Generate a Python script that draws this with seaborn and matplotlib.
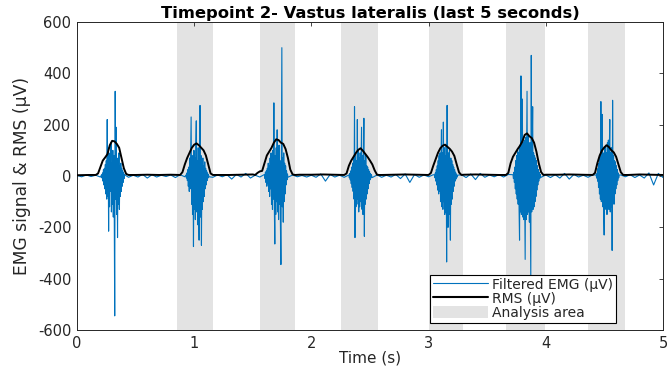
import numpy as np
import pandas as pd
import matplotlib
matplotlib.use("Agg")
import matplotlib.pyplot as plt
import seaborn as sns
from matplotlib.patches import Patch
from matplotlib.lines import Line2D

# ---------------- data ----------------
title = "Timepoint 2- Vastus lateralis (last 5 seconds)"
x_label = "Time (s)"
y_label = "EMG signal & RMS (\u00b5V)"
legend_labels = ["Filtered EMG (\u00b5V)", "RMS (\u00b5V)", "Analysis area"]
x_ticks = [0, 1, 2, 3, 4, 5]
y_ticks = [-600, -400, -200, 0, 200, 400, 600]

analysis_start = [0.85, 1.56, 2.25, 3.00, 3.66, 4.36]
analysis_end = [1.16, 1.86, 2.57, 3.29, 3.99, 4.68]

# EMG bursts (sample step 0.004 s)
emg_dt = 0.004
burst_starts = [0.21, 0.93, 1.60, 2.32, 3.05, 3.72, 4.43]
burst1 = [5, -8, 12, -20, 25, -35, 30, -50, 45, -70, 60, -90, 220, -80, 110, -215, 70, -120, 90, -60,
          130, -140, 50, -110, 100, -160, 80, -130, -545, 330, -90, 190, -150, 70, -240, 60, -110, 90, -130, 40,
          -80, 50, -60, 30, -40, 20, -25, 12, -10, 5]
burst2 = [4, -8, 12, -18, 25, -40, 35, -60, 70, -50, 90, 230, -110, 80, -150, 60, -275, 100, -130, 70,
          -170, 120, 215, -140, 60, -190, 110, -120, -250, 90, 275, -160, 80, -270, 50, -130, 70, -100, 40, -80,
          55, -50, 30, -35, 20, -18, 12, -8, 5, -3]
burst3 = [6, -10, 15, -25, 20, -40, 30, -30, 50, -60, 40, -80, 70, -50, 90, -110, 60, -130, 100, -90,
          285, -120, -265, 80, -150, 110, -100, 180, -140, 90, -170, 120, -110, 60, -190, -345, 100, 500, -120, 70,
          -180, 90, -100, 50, -70, 40, -35, 20, -15, 8]
burst4 = [4, -7, 10, -15, 20, -30, 35, -45, 50, -60, 70, -90, 270, -240, 80, -120, 60, -110, 220, -90,
          100, -140, 70, -120, 90, -100, 60, 190, -130, 80, -150, 70, 225, -235, 60, -110, 80, -90, 40, -70,
          35, -50, 25, -30, 18, -15, 10, -8, 5, -3]
burst5 = [4, -7, 12, -20, 25, -35, 40, -55, 60, -70, 80, -60, 90, -100, 70, 180, -120, 90, -130, 210,
          -100, 110, -150, 80, -140, 120, -335, 275, -110, -200, 90, -150, 100, -120, -250, 70, -110, 60, -90, 45,
          -60, 35, -40, 25, -20, 15, -12, 8, -5, 3]
burst6 = [5, -10, 15, -25, 35, -50, 60, -70, 80, -90, 100, -110, 90, -130, -250, 120, -140, 390, -150, 110,
          300, -160, 130, -170, 140, -120, -325, 150, -170, 110, 330, -150, 160, -140, 120, -180, 130, -160, -400, 470,
          -140, 110, 270, -130, 90, -120, 80, -100, 70, -80, 60, -55, 40, -35, 25, -20, 15, -10, 6, -3]
burst7 = [4, -8, 12, -20, 30, -45, 50, -70, 80, -90, 290, -100, 110, 240, -120, 90, -140, -230, 110, -130,
          120, -110, 90, -150, 130, -120, 140, -130, 100, 220, -140, 90, -120, 110, -290, 295, -100, 80, -110, 60,
          -70, 55, -50, 40, -35, 25, -18, 12, -7, 4]
burst_emg = [burst1, burst2, burst3, burst4, burst5, burst6, burst7]

# EMG baseline between bursts (sample step 0.04 s, from 0 s)
baseline_dt = 0.04
baseline_emg = [2, -3, 4, -2, 3, -4, 2, -3, 5, -6,
                4, -5, 3, -4, 6, -8, 5, -4, 3, -2,
                4, -6, 5, -3, 4, -5, 6, -4, 3, -5,
                4, -3, 5, -12, 6, -4, 10, -8, 3, -4,
                5, -3, 4, -6, 3, -5, 4, -3, 2, -4,
                3, -5, 8, -20, 6, -4, 3, -5, 4, -3,
                5, -4, 3, -6, 4, -5, 3, -4, 6, -10,
                8, -25, 6, -5, 4, -3, 5, -4, 3, -5,
                4, -3, 5, -6, 8, -14, 10, -5, 4, -3,
                5, -4, 6, -5, 4, -3, 5, -4, 3, -5,
                4, -6, 5, -8, 10, -12, 6, -4, 3, -5,
                4, -3, 5, -4, 6, -5, 4, -3, 5, -6,
                4, -8, 12, -35, 10, -6]

# RMS envelope during bursts (sample step 0.02 s)
rms_dt = 0.02
rms_starts = [0.16, 0.88, 1.52, 2.28, 3.00, 3.66, 4.40]
rms1 = [4, 10, 35, 60, 72, 85, 120, 137, 135, 125, 110, 70, 30, 8, 4, 4]
rms2 = [4, 15, 45, 70, 90, 110, 122, 127, 120, 110, 100, 80, 45, 10, 4]
rms3 = [4, 12, 18, 20, 50, 80, 95, 110, 130, 143, 140, 130, 125, 105, 70, 25, 6, 4]
rms4 = [4, 10, 40, 60, 75, 90, 102, 108, 98, 86, 74, 60, 45, 22, 5, 4]
rms5 = [4, 12, 40, 65, 90, 108, 118, 122, 114, 106, 95, 78, 45, 14, 4]
rms6 = [4, 12, 50, 75, 90, 105, 118, 135, 160, 166, 155, 148, 130, 95, 50, 15, 4]
rms7 = [4, 12, 50, 80, 100, 112, 120, 112, 100, 92, 75, 45, 15, 4]
rms_bursts = [rms1, rms2, rms3, rms4, rms5, rms6, rms7]

# RMS baseline (sample step 0.1 s, from 0 s)
rms_base_dt = 0.1
rms_baseline = [3, 4, 4, 5, 4, 4, 5, 4, 5, 4,
                4, 5, 4, 4, 5, 6, 5, 4, 4, 5,
                5, 6, 5, 4, 4, 5, 4, 5, 6, 5,
                4, 4, 5, 5, 6, 5, 4, 4, 5, 4,
                5, 5, 6, 5, 4, 4, 5, 4, 6, 5, 4]

# ---------------- assemble ----------------
def assemble(starts, bursts, dt, base, base_dt):
    t_list, v_list = [], []
    windows = []
    for s, vals in zip(starts, bursts):
        t = s + np.arange(len(vals)) * dt
        t_list.append(t)
        v_list.append(np.asarray(vals, dtype=float))
        windows.append((t[0], t[-1]))
    tb = np.arange(len(base)) * base_dt
    vb = np.asarray(base, dtype=float)
    keep = np.ones(len(tb), dtype=bool)
    for a, b in windows:
        keep &= ~((tb >= a - 1e-9) & (tb <= b + 1e-9))
    t_list.append(tb[keep])
    v_list.append(vb[keep])
    df = pd.DataFrame({"time": np.concatenate(t_list), "uv": np.concatenate(v_list)})
    return df.sort_values("time").reset_index(drop=True)

emg_df = assemble(burst_starts, burst_emg, emg_dt, baseline_emg, baseline_dt)
rms_df = assemble(rms_starts, rms_bursts, rms_dt, rms_baseline, rms_base_dt)

# ---------------- plot ----------------
sns.set_theme(style="white")
plt.rcParams["font.family"] = ["DejaVu Sans"]

emg_color = "#0072BD"
area_color = "#E3E3E3"
axis_color = "#262626"

fig = plt.figure(figsize=(6.67, 3.73), dpi=100)
ax = fig.add_axes([0.1154, 0.1153, 0.8786, 0.8257])

for a, b in zip(analysis_start, analysis_end):
    ax.axvspan(a, b, color=area_color, lw=0, zorder=0)

sns.lineplot(data=emg_df, x="time", y="uv", ax=ax, estimator=None, sort=True,
             color=emg_color, linewidth=0.8, zorder=2, legend=False)
sns.lineplot(data=rms_df, x="time", y="uv", ax=ax, estimator=None, sort=True,
             color="black", linewidth=1.4, zorder=3, legend=False)

ax.set_xlim(0, 5)
ax.set_ylim(-600, 600)
ax.set_xticks(x_ticks)
ax.set_yticks(y_ticks)
ax.set_xticklabels([str(v) for v in x_ticks])
ax.set_yticklabels([str(v) for v in y_ticks])
ax.tick_params(axis="both", direction="in", length=3, width=0.6, colors=axis_color,
               labelsize=10.5, top=True, right=True, pad=4)
for sp in ax.spines.values():
    sp.set_visible(True)
    sp.set_color(axis_color)
    sp.set_linewidth(0.7)

ax.set_title(title, fontsize=11.8, fontweight="bold", color="black", pad=3)
ax.set_xlabel(x_label, fontsize=11, color=axis_color, labelpad=0)
ax.set_ylabel(y_label, fontsize=12.3, color=axis_color, labelpad=5)

handles = [Line2D([0], [0], color=emg_color, lw=0.8),
           Line2D([0], [0], color="black", lw=1.5),
           Patch(facecolor=area_color, edgecolor="none")]
leg = ax.legend(handles, legend_labels, loc="lower right", bbox_to_anchor=(0.92, 0.024),
                fontsize=10, frameon=True, fancybox=False, framealpha=1,
                edgecolor="black", handlelength=4.0, handleheight=1.0, labelspacing=0.0,
                borderpad=0.2, handletextpad=0.3, borderaxespad=0)
leg.get_frame().set_linewidth(0.8)
leg.set_zorder(5)

fig.savefig("out.png", dpi=100)
